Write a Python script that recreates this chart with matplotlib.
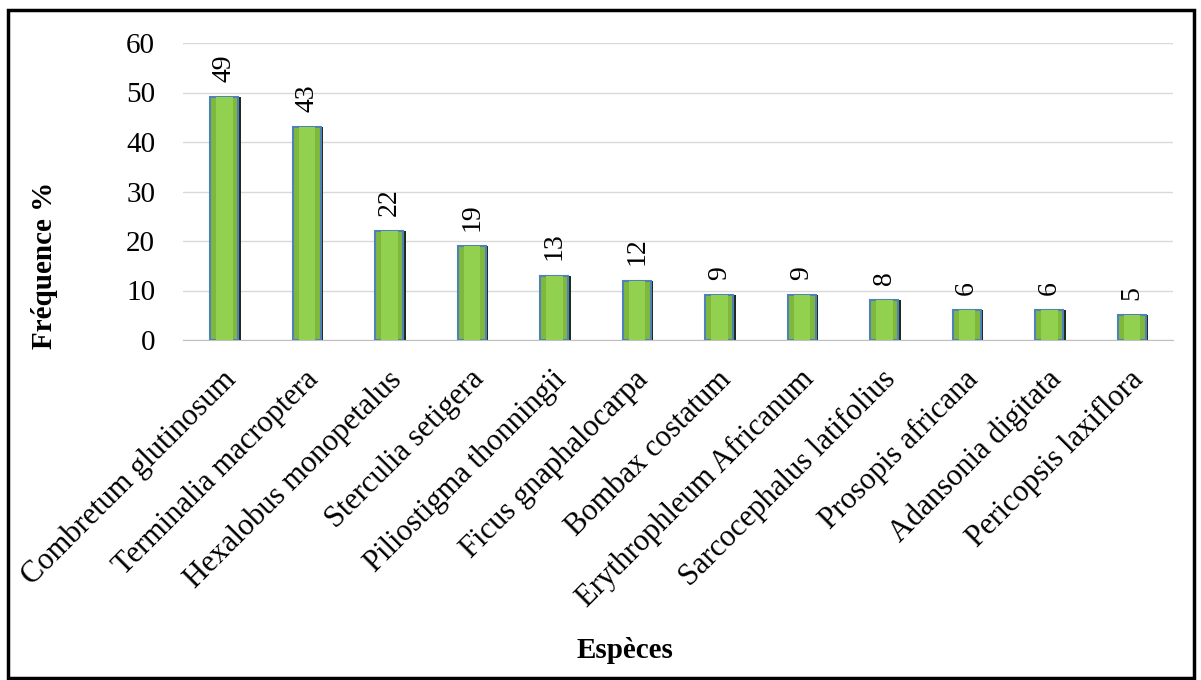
import matplotlib.pyplot as plt
import matplotlib.transforms as mtransforms
from matplotlib.patches import Rectangle

especes = ["Combretum glutinosum", "Terminalia macroptera", "Hexalobus monopetalus",
           "Sterculia setigera", "Piliostigma thonningii", "Ficus gnaphalocarpa",
           "Bombax costatum", "Erythrophleum Africanum", "Sarcocephalus latifolius",
           "Prosopis africana", "Adansonia digitata", "Pericopsis laxiflora"]
frequence = [49, 43, 22, 19, 13, 12, 9, 9, 8, 6, 6, 5]
y_ticks = [0, 10, 20, 30, 40, 50, 60]

plt.rcParams['font.family'] = ['Liberation Serif', 'DejaVu Serif']

fig = plt.figure(figsize=(12.01, 6.8), dpi=100)
ax = fig.add_axes([183/1201, 0.5, 990/1201, 297/680])

x = list(range(len(especes)))
# shadow on the right side, main bar, lighter inner face
ax.bar([i + 0.03 for i in x], frequence, width=0.34, color='#1F2A1A', zorder=2)
ax.bar(x, frequence, width=0.34, color='#7FB83A', edgecolor='#4F81BD', linewidth=1.5, zorder=3)
ax.bar(x, frequence, width=0.20, color='#92D050', linewidth=0, zorder=4)

for i, v in zip(x, frequence):
    ax.annotate(str(v), (i, v), xytext=(0, 11), textcoords='offset points',
                rotation=90, ha='center', va='bottom', fontsize=20)

ax.set_xlim(-0.5, len(especes) - 0.5)
ax.set_ylim(0, 60)
ax.set_yticks(y_ticks)
ax.yaxis.grid(True, color='#D9D9D9', linewidth=1)
ax.set_axisbelow(True)
for s in ['top', 'right', 'left']:
    ax.spines[s].set_visible(False)
ax.spines['bottom'].set_color('#BFBFBF')
ax.tick_params(axis='y', length=0, pad=20, labelsize=21)
ax.tick_params(axis='x', length=0, pad=18)
ax.set_xticks(x)
ax.set_xticklabels(especes, rotation=45, ha='right', va='top',
                   rotation_mode='anchor', fontsize=22)
offset = mtransforms.ScaledTranslation(-2/72, 0, fig.dpi_scale_trans)
for lab in ax.get_xticklabels():
    lab.set_transform(lab.get_transform() + offset)

fig.text(45/1201, 1 - 265/680, "Fréquence %", rotation=90, ha='center', va='center',
         fontsize=21, fontweight='bold')
fig.text(625/1201, 1 - 650/680, "Espèces", ha='center', va='center',
         fontsize=21, fontweight='bold')

fig.patches.append(Rectangle((8/1201, 2/680), 1186/1201, 668/680, transform=fig.transFigure,
                             fill=False, edgecolor='black', linewidth=2.5))

fig.savefig('out.png', dpi=100)
